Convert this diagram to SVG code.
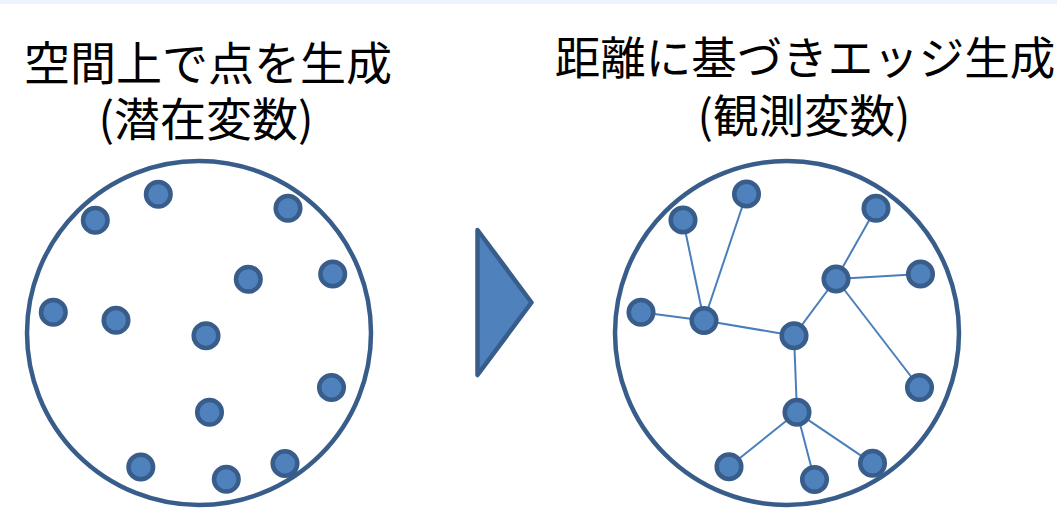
<svg xmlns="http://www.w3.org/2000/svg" width="1057" height="509" viewBox="0 0 1057 509">
<style>
.title{font-family:"Noto Sans CJK JP","Noto Sans",sans-serif;font-size:46px;fill:#000;text-anchor:middle}
.region{fill:none;stroke:#385d8a;stroke-width:4.5}
.dot{fill:#4f81bd;stroke:#385d8a;stroke-width:4.5}
.edge{stroke:#4a7ebb;stroke-width:2;fill:none}
.arrow{fill:#4f81bd;stroke:#385d8a;stroke-width:4.5;stroke-linejoin:round}
</style>
<defs>
<circle id="d" r="12.3" class="dot"/>
</defs>
<rect x="0" y="0" width="1057" height="509" fill="#fff"/>
<rect x="0" y="0" width="1057" height="4" fill="#edf3fd"/>
<g id="title-left">
<text class="title"><tspan x="208" y="80">空間上で点を生成</tspan><tspan x="206" y="136">(潜在変数)</tspan></text>
</g>
<g id="title-right">
<text class="title" style="font-size:45.5px"><tspan x="805" y="75">距離に基づきエッジ生成</tspan><tspan x="804" y="133">(観測変数)</tspan></text>
</g>
<g id="region-left"><circle class="region" cx="199" cy="333" r="172"/></g>
<g id="region-right"><circle class="region" cx="787" cy="333" r="172"/></g>
<g id="arrow"><polygon class="arrow" points="477.5,230 531.5,302.5 477.5,375"/></g>
<g id="connectors">
<line class="edge" x1="683" y1="220" x2="704" y2="320.5"/>
<line class="edge" x1="746.5" y1="194" x2="704" y2="320.5"/>
<line class="edge" x1="641" y1="312.3" x2="704" y2="320.5"/>
<line class="edge" x1="704" y1="320.5" x2="794" y2="335.7"/>
<line class="edge" x1="794" y1="335.7" x2="836" y2="279"/>
<line class="edge" x1="836" y1="279" x2="876" y2="208.3"/>
<line class="edge" x1="836" y1="279" x2="920.5" y2="274"/>
<line class="edge" x1="836" y1="279" x2="919.5" y2="387.5"/>
<line class="edge" x1="794" y1="335.7" x2="797" y2="412.3"/>
<line class="edge" x1="797" y1="412.3" x2="729" y2="466.7"/>
<line class="edge" x1="797" y1="412.3" x2="814.5" y2="479.5"/>
<line class="edge" x1="797" y1="412.3" x2="872.5" y2="463.3"/>
</g>
<g id="points-left">
<use href="#d" x="158.3" y="194.3"/>
<use href="#d" x="95.3" y="220.3"/>
<use href="#d" x="288" y="208.3"/>
<use href="#d" x="248.3" y="279.3"/>
<use href="#d" x="332.7" y="274"/>
<use href="#d" x="53.3" y="312.3"/>
<use href="#d" x="116" y="320.3"/>
<use href="#d" x="206" y="335.7"/>
<use href="#d" x="331.5" y="387.5"/>
<use href="#d" x="209.5" y="412.3"/>
<use href="#d" x="140.8" y="467"/>
<use href="#d" x="226.3" y="479.3"/>
<use href="#d" x="285" y="463.5"/>
</g>
<g id="points-right">
<use href="#d" x="746.5" y="194"/>
<use href="#d" x="683" y="220"/>
<use href="#d" x="876" y="208.3"/>
<use href="#d" x="836" y="279"/>
<use href="#d" x="920.5" y="274"/>
<use href="#d" x="641" y="312.3"/>
<use href="#d" x="704" y="320.5"/>
<use href="#d" x="794" y="335.7"/>
<use href="#d" x="919.5" y="387.5"/>
<use href="#d" x="797" y="412.3"/>
<use href="#d" x="729" y="466.7"/>
<use href="#d" x="814.5" y="479.5"/>
<use href="#d" x="872.5" y="463.3"/>
</g>
</svg>
